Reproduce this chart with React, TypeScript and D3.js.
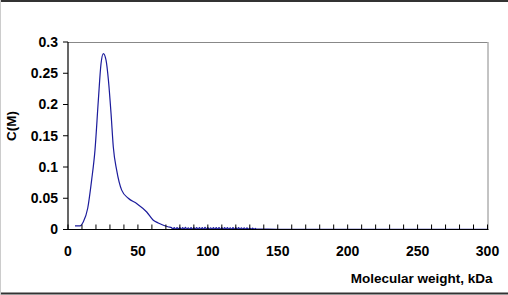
import React from 'react';
import * as d3 from 'd3';

// molecular weight (kDa) and concentration C(M)
const mw = [
  5, 8.6, 10.9, 14.1, 16.9, 19.3, 21.7, 23.6, 25.3, 27.2, 28.9, 30.8, 32.4, 34.8,
  38.4, 43.1, 49.1, 56.3, 61, 64.5, 68.2, 72,
  74, 75, 76, 77, 78, 79, 80, 81, 82, 83, 84, 85, 86, 87, 88, 89, 90, 91, 92, 93,
  94, 95, 96, 97, 98, 99, 100, 101, 102, 103, 104, 105, 106, 107, 108, 109, 110,
  111, 112, 113, 114, 115, 116, 117, 118, 119, 120, 121, 122, 123, 124, 125, 126,
  127, 128, 129, 130, 131, 132, 133, 134, 135, 136,
  150, 200, 250, 300
];
const conc = [
  0.0058, 0.0058, 0.012, 0.034, 0.079, 0.127, 0.207, 0.265, 0.2815, 0.271, 0.239,
  0.185, 0.132, 0.095, 0.063, 0.05, 0.0415, 0.028, 0.0149, 0.0105, 0.0069, 0.004,
  0.003, 0.0004, 0.0031, 0.0002, 0.0029, 0.0005, 0.0032, 0.0001, 0.003, 0.0004,
  0.0033, 0.0002, 0.0028, 0.0003, 0.0031, 0.0001, 0.003, 0.0004, 0.0032, 0.0002,
  0.0029, 0.0003, 0.0031, 0.0001, 0.0033, 0.0004, 0.003, 0.0002, 0.0028, 0.0003,
  0.0031, 0.0001, 0.003, 0.0004, 0.0032, 0.0002, 0.0029, 0.0003, 0.0031, 0.0001,
  0.003, 0.0004, 0.0028, 0.0002, 0.0031, 0.0003, 0.0029, 0.0001, 0.003, 0.0004,
  0.0027, 0.0002, 0.0028, 0.0003, 0.0026, 0.0002, 0.0024, 0.0004, 0.0022, 0.0003,
  0.0018, 0.0004, 0.0008,
  0.0004, 0.0004, 0.0004, 0.0004
];
const yTicks = [0, 0.05, 0.1, 0.15, 0.2, 0.25, 0.3];
const xLabels = [0, 50, 100, 150, 200, 250, 300];
const xMinor = d3.range(0, 301, 10);

const W = 508;
const H = 295;
const margin = { top: 42, right: 20.5, bottom: 65.5, left: 68 };
const font = 'Arial, "Liberation Sans", sans-serif';

export default function App() {
  const x = d3.scaleLinear().domain([0, 300]).range([margin.left, W - margin.right]);
  const y = d3.scaleLinear().domain([0, 0.3]).range([H - margin.bottom, margin.top]);
  const pts: [number, number][] = mw.map((m, i) => [m, conc[i]]);
  const line = d3.line<[number, number]>()
    .x((d) => x(d[0]))
    .y((d) => y(d[1]))
    .curve(d3.curveMonotoneX);

  const x0 = x(0), x1 = x(300), y0 = y(0), y1 = y(0.3);

  return (
    <svg width={W} height={H} style={{ position: 'absolute', left: 0, top: 0, background: '#fff' }}>
      {/* outer frame */}
      <rect x={0} y={0} width={W} height={2} fill="#333" />
      <rect x={0} y={292.5} width={W} height={2} fill="#333" />
      <rect x={0} y={0} width={1} height={H} fill="#ccc" />

      {/* plot box */}
      <line x1={x0} x2={x1} y1={y1 + 0.5} y2={y1 + 0.5} stroke="#888" strokeWidth={1} />
      <line x1={x1 + 0.5} x2={x1 + 0.5} y1={y1} y2={y0} stroke="#888" strokeWidth={1} />

      <path d={line(pts) || ''} fill="none" stroke="#1c1c9c" strokeWidth={1.2} />

      {/* axes */}
      <line x1={x0} x2={x0} y1={y1} y2={y0} stroke="#000" strokeWidth={1.2} />
      <line x1={x0} x2={x1 + 1} y1={y0} y2={y0} stroke="#000" strokeWidth={1.2} />
      {yTicks.map((t) => (
        <g key={t}>
          <line x1={x0 - 5} x2={x0} y1={y(t)} y2={y(t)} stroke="#000" strokeWidth={1} />
          <text x={58} y={y(t)} dy="0.35em" textAnchor="end" fontFamily={font}
            fontWeight="bold" fontSize={14}>{t}</text>
        </g>
      ))}
      {xMinor.map((t) => (
        <line key={t} x1={x(t)} x2={x(t)} y1={y0 - 5} y2={y0} stroke="#000" strokeWidth={1} />
      ))}
      {xLabels.map((t) => (
        <text key={t} x={x(t)} y={251} dy="0.35em" textAnchor="middle" fontFamily={font}
          fontWeight="bold" fontSize={14}>{t}</text>
      ))}

      <text transform="translate(11,126) rotate(-90)" dy="0.35em" textAnchor="middle"
        fontFamily={font} fontWeight="bold" fontSize={13.5}>C(M)</text>
      <text x={492.5} y={278} dy="0.35em" textAnchor="end" fontFamily={font}
        fontWeight="bold" fontSize={13.5}>Molecular weight, kDa</text>
    </svg>
  );
}
